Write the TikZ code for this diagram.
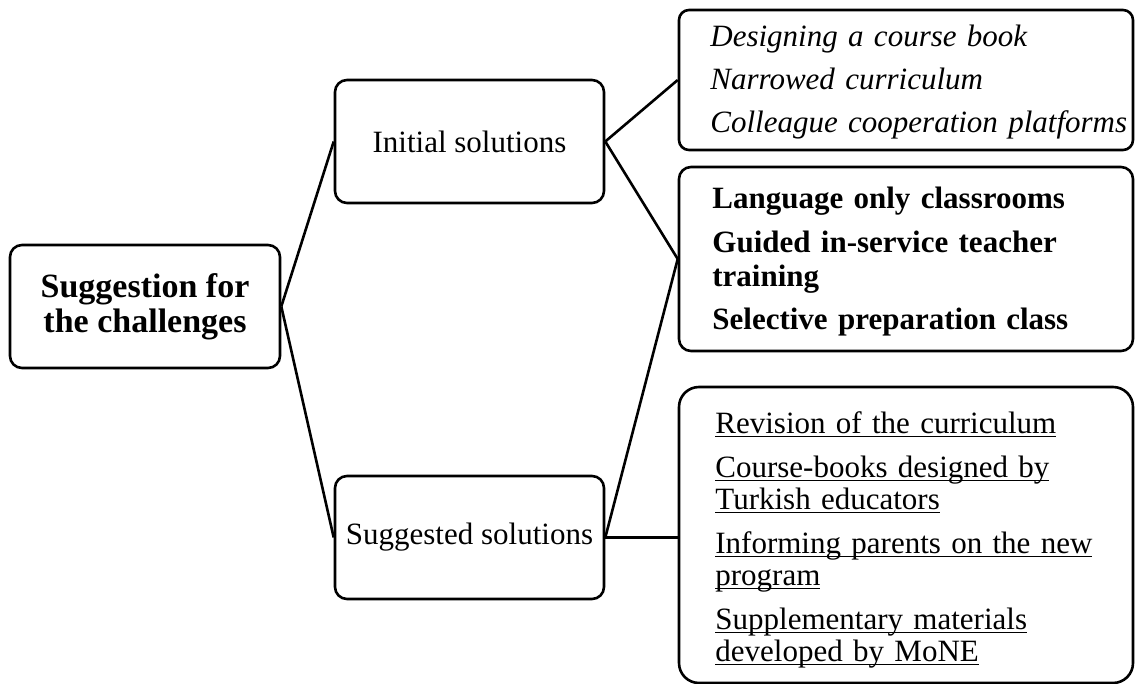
\documentclass[tikz,border=0pt]{standalone}
\usepackage{fontspec}
\setmainfont{Liberation Serif}
\usetikzlibrary{positioning}

% underline at a fixed depth below the baseline
\newcommand{\undl}[1]{\leavevmode\setbox0\hbox{#1}\rlap{\rule[-2pt]{\wd0}{0.7pt}}\box0}

\tikzset{
    box/.style={draw, line width=1.3pt, rounded corners=6pt, inner sep=0pt},
    sidebox/.style={box, minimum width=227pt},
    list/.style={anchor=base west, text width=220pt, align=left, inner sep=0pt},
    link/.style={line width=1.3pt},
    midfont/.style={font=\fontsize{15.5}{18}\selectfont}
}

\begin{document}
\begin{tikzpicture}[x=0.5pt, y=-0.5pt]
    \useasboundingbox (0,0) rectangle (1135,684);

    % Root and the two groups
    \node[box, minimum width=135pt, minimum height=61.5pt, align=center,
          font=\fontsize{17}{17.5}\selectfont\bfseries] (root) at (145,306.5) {\raisebox{-2pt}{Suggestion for}\\\raisebox{-2pt}{the challenges}};
    \node[box, midfont, minimum width=134.5pt, minimum height=61.5pt] (initial) at (469.5,141.5) {Initial solutions};
    \node[box, midfont, minimum width=134.5pt, minimum height=61.5pt] (suggested) at (469.5,537.5) {Suggested solutions};

    % Boxes on the right
    \node[sidebox, rounded corners=5pt, minimum height=70pt] (italicbox) at (906,80) {};
    \node[sidebox, minimum height=92pt] (boldbox) at (906,259) {};
    \node[sidebox, rounded corners=10pt, minimum height=148pt] (linebox) at (906,535) {};

    % Lists
    \node[list, font=\fontsize{15.5}{21.5}\selectfont\itshape] (italiclist) at (710,47)
        {Designing a course book\\Narrowed curriculum\\Colleague cooperation platforms};
    \node[list, font=\fontsize{15.5}{17}\selectfont\bfseries] (boldlist) at (712,209)
        {Language only classrooms\\[4.75pt]Guided in-service teacher\\training\\[4.75pt]Selective preparation class};
    \node[list, font=\fontsize{15.5}{16}\selectfont] (linelist) at (715,433)
        {\undl{Revision of the curriculum}\\[6pt]\undl{Course-books designed by}\\\undl{Turkish educators}\\[6pt]%
         \undl{Informing parents on the new}\\\undl{program}\\[6pt]\undl{Supplementary materials}\\\undl{developed by MoNE}};

    % Connectors
    \draw[link] (root.east) -- (initial.west);
    \draw[link] (root.east) -- (suggested.west);
    \draw[link] (initial.east) -- (italicbox.west);
    \draw[link] (initial.east) -- (boldbox.west);
    \draw[link] (suggested.east) -- (boldbox.west);
    \draw[link] (suggested.east) -- (suggested.east -| linebox.west);
\end{tikzpicture}
\end{document}
